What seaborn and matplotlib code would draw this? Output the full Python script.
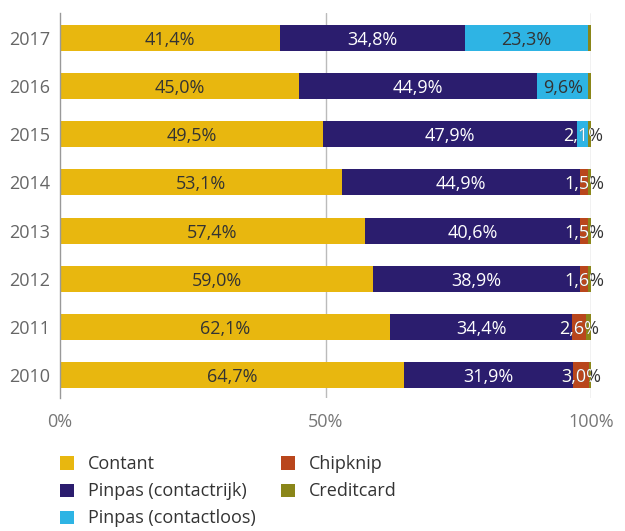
import numpy as np
import pandas as pd
import seaborn as sns
import matplotlib.pyplot as plt
from matplotlib.patches import Patch, Rectangle

# values per year (percent of payments)
years = ['2017', '2016', '2015', '2014', '2013', '2012', '2011', '2010']
contant = [41.4, 45.0, 49.5, 53.1, 57.4, 59.0, 62.1, 64.7]
contactrijk = [34.8, 44.9, 47.9, 44.9, 40.6, 38.9, 34.4, 31.9]
contactloos = [23.3, 9.6, 2.1, 0, 0, 0, 0, 0]
chipknip = [0, 0, 0, 1.5, 1.5, 1.6, 2.6, 3.0]
creditcard = [0.5, 0.5, 0.5, 0.5, 0.5, 0.5, 0.9, 0.4]

series_names = ['Contant', 'Pinpas (contactrijk)', 'Pinpas (contactloos)', 'Chipknip', 'Creditcard']
series_vals = [contant, contactrijk, contactloos, chipknip, creditcard]
colors = ['#E8B70F', '#2B1D6E', '#2EB4E4', '#B9461C', '#8A8619']
text_dark = '#333333'

df = pd.DataFrame(dict(zip(series_names, series_vals)), index=years)
cum = df.cumsum(axis=1)
start = cum - df

sns.set_style('white')
plt.rcParams['font.family'] = ['Open Sans', 'DejaVu Sans']

fig = plt.figure(figsize=(6.25, 5.31), dpi=100)
ax = fig.add_axes([0.096, 0.2505, 0.8496, 0.725])

bar_h = 0.54
fs = 13
# stacked bars: draw cumulative totals from the outermost segment inwards
for name, col in reversed(list(zip(series_names, colors))):
    plot_df = pd.DataFrame({'year': years, 'value': cum[name].values})
    sns.barplot(data=plot_df, x='value', y='year', order=years, color=col,
                saturation=1, width=bar_h, errorbar=None, ax=ax, linewidth=0)

# labels
lab = dict(ha='center', va='center_baseline', fontsize=fs)
for i, yr in enumerate(years):
    for name in series_names[:4]:
        v = df.loc[yr, name]
        if v <= 0:
            continue
        xc = start.loc[yr, name] + v / 2
        txt = f'{v:.1f}%'.replace('.', ',')
        if name == 'Contant' or (name == 'Pinpas (contactloos)' and v > 5):
            ax.text(xc, i, txt, color=text_dark, **lab)
        elif name == 'Pinpas (contactrijk)':
            ax.text(xc, i, txt, color='white', **lab)
        else:
            # small segment: white inside the bar, dark outside
            ax.text(xc, i, txt, color=text_dark, **lab)
            t = ax.text(xc, i, txt, color='white', clip_on=True, **lab)
            clip = Rectangle((0, i - bar_h / 2), 100, bar_h, transform=ax.transData)
            t.set_clip_path(clip)

ax.set_xlim(0, 100)
ax.set_ylim(7.48, -0.52)
ax.set_xticks([0, 50, 100])
ax.set_xticklabels(['0%', '50%', '100%'])
for x in [50, 100]:
    ax.axvline(x, color='#bbbbbb', lw=1, zorder=0)
ax.set_xlabel('')
ax.set_ylabel('')
for s in ['top', 'right', 'bottom']:
    ax.spines[s].set_visible(False)
ax.spines['left'].set_color('#999999')
ax.spines['left'].set_linewidth(1)
ax.tick_params(axis='y', length=0, pad=7, labelsize=fs, labelcolor='#666666')
ax.tick_params(axis='x', length=0, pad=11, labelsize=fs, labelcolor='#777777')

handles = [Patch(facecolor=c, edgecolor='none', label=n) for n, c in zip(series_names, colors)]
fig.legend(handles=handles, loc='upper left', bbox_to_anchor=(0.07, 0.173), ncol=2,
           frameon=False, fontsize=fs, handlelength=0.75, handleheight=0.75,
           handletextpad=0.8, columnspacing=1.4, labelspacing=0.5,
           labelcolor='#333333')

fig.savefig('out.png', dpi=100)
